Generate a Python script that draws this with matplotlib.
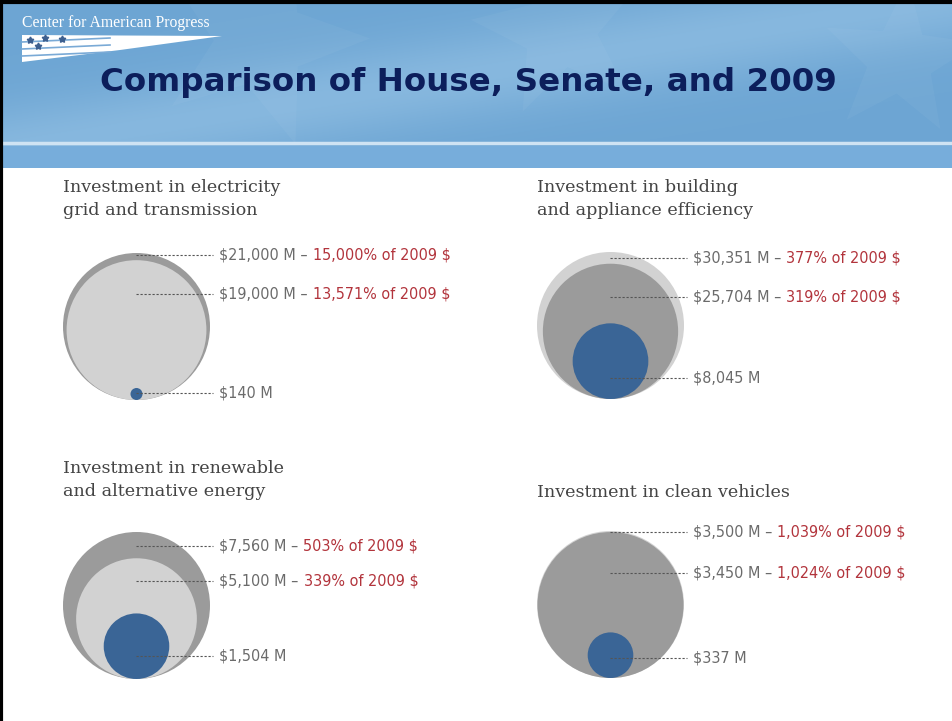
import numpy as np
import matplotlib
matplotlib.use("Agg")
import matplotlib.pyplot as plt
from matplotlib.patches import Circle, Polygon

# ---- data ----
panel_titles = ["Investment in electricity\ngrid and transmission",
                "Investment in building\nand appliance efficiency",
                "Investment in renewable\nand alternative energy",
                "Investment in clean vehicles"]
first_vals = [21000, 30351, 7560, 3500]       # largest proposal
second_vals = [19000, 25704, 5100, 3450]      # second proposal
base_2009 = [140, 8045, 1504, 337]            # 2009 spending
first_pct = ["15,000%", "377%", "503%", "1,039%"]
second_pct = ["13,571%", "319%", "339%", "1,024%"]

# ---- layout / styles ----
W, H = 953, 721
DARK, LIGHT, BLUE = "#9b9b9b", "#d2d2d2", "#3a6596"
first_colors = [DARK, LIGHT, DARK, LIGHT]
second_colors = [LIGHT, DARK, LIGHT, DARK]
centers_x = [136.5, 610.5, 136.5, 610.5]
bottoms = [400, 399, 679, 678]
title_pos = [(63, 179), (537, 179), (63, 460), (537, 484)]
label_rows = [(255, 294, 393), (258, 297, 378), (546, 581, 656), (532, 573, 658)]
R_MAX = 73.5

fig = plt.figure(figsize=(W / 100, H / 100), dpi=100)
ax = fig.add_axes([0, 0, 1, 1])
ax.set_xlim(0, W)
ax.set_ylim(H, 0)
ax.axis("off")

# header banner gradient
hy0, hy1 = 3, 168
yy, xx = np.mgrid[hy0:hy1, 0:W]
streak = np.exp(-((yy - (150 - 0.16 * xx)) / 45.0) ** 2)
base = np.array([0.43, 0.65, 0.83])
light = np.array([0.57, 0.75, 0.89])
img = base[None, None, :] * (1 - streak[..., None] * 0.7) + light[None, None, :] * streak[..., None] * 0.7
img[yy > 145] = np.array([0.47, 0.68, 0.86])
ax.imshow(img, extent=(0, W, hy1, hy0), aspect="auto", zorder=0)
ax.plot([0, W], [143, 143], color="#cfe3f3", lw=2.5, zorder=1)

# faint stars in the banner
def star(cx, cy, r, rot):
    pts = []
    for k in range(10):
        rr = r if k % 2 == 0 else r * 0.42
        a = rot + k * np.pi / 5
        pts.append((cx + rr * np.sin(a), cy - rr * np.cos(a)))
    return pts

for cx, cy, r, rot in [(260, 40, 110, 0.3), (560, 30, 90, -0.2), (900, 60, 80, 0.1)]:
    ax.add_patch(Polygon(star(cx, cy, r, rot), closed=True, facecolor="white",
                         alpha=0.04, edgecolor="none", zorder=1))

# logo
ax.text(22, 23, "Center for American Progress", color="white", fontsize=11.3,
        family="Liberation Serif", va="center", ha="left", zorder=3)
ax.add_patch(Polygon([(22, 35), (222, 36), (120, 50), (22, 62)], closed=True,
                     facecolor="white", edgecolor="none", zorder=3))
for yl in [42, 49, 56]:
    ax.plot([22, 110], [yl, yl - 4], color="#7aaad6", lw=1.2, zorder=4)
for sx, sy in [(30, 40), (45, 38), (62, 39), (38, 46)]:
    ax.plot(sx, sy, marker=(5, 1), color="#3d5f8f", ms=5, zorder=5)

# title
ax.text(100, 83, "Comparison of House, Senate, and 2009", color="#0c1e5b",
        fontsize=23.4, fontweight="bold", family="DejaVu Sans",
        va="center", ha="left", zorder=3)

# borders
ax.plot([1.5, 1.5], [0, H], color="black", lw=3, zorder=6)
ax.plot([0, W], [1.5, 1.5], color="black", lw=3, zorder=6)

for i in range(4):
    cx, bot = centers_x[i], bottoms[i]
    vmax = max(first_vals[i], second_vals[i])
    circles = [(first_vals[i], first_colors[i]), (second_vals[i], second_colors[i]),
               (base_2009[i], BLUE)]
    for z, (v, col) in enumerate(circles):
        r = R_MAX * np.sqrt(v / vmax)
        ax.add_patch(Circle((cx, bot - r), r, facecolor=col, edgecolor="none", zorder=2 + z))

    tx, ty = title_pos[i]
    ax.text(tx, ty, panel_titles[i], color="#444444", fontsize=12.6,
            family="DejaVu Serif", va="top", ha="left", linespacing=1.45, zorder=3)

    texts = [(f"${first_vals[i]:,} M \u2013 ", first_pct[i] + " of 2009 $"),
             (f"${second_vals[i]:,} M \u2013 ", second_pct[i] + " of 2009 $"),
             (f"${base_2009[i]:,} M", None)]
    for ly, (gray, red) in zip(label_rows[i], texts):
        ax.plot([cx, cx + 77], [ly, ly], color="#555555", lw=0.8,
                linestyle=(0, (2, 1.6)), zorder=6)
        t = ax.text(cx + 83, ly, gray, color="#6b6b6b", fontsize=11.5,
                    family="DejaVu Sans", fontstretch="condensed",
                    va="center", ha="left", zorder=6)
        if red:
            ax.annotate(red, xy=(1, 0), xycoords=t, va="bottom", ha="left",
                        color="#b2343c", fontsize=11.5, family="DejaVu Sans",
                        fontstretch="condensed", zorder=6)

fig.savefig("out.png", dpi=100)
